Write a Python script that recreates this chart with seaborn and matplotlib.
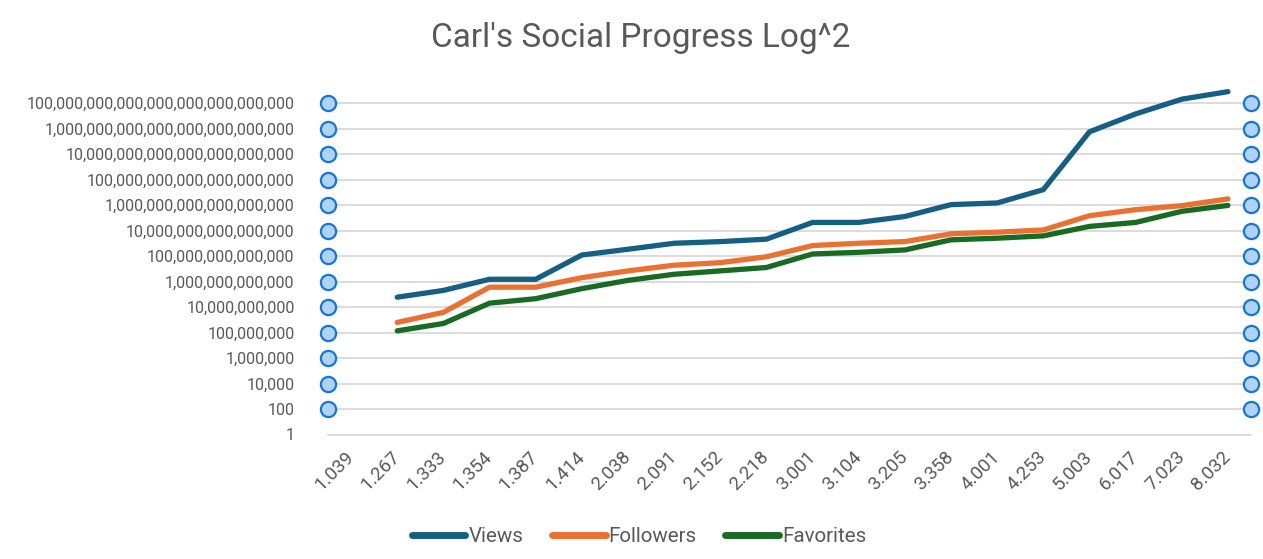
import numpy as np
import pandas as pd
import matplotlib
matplotlib.use("Agg")
import matplotlib.pyplot as plt
from matplotlib.ticker import FixedLocator, FuncFormatter, NullLocator
import seaborn as sns

categories = ["1.039", "1.267", "1.333", "1.354", "1.387", "1.414", "2.038", "2.091",
              "2.152", "2.218", "3.001", "3.104", "3.205", "3.358", "4.001", "4.253",
              "5.003", "6.017", "7.023", "8.032"]
views = [np.nan, 5.9e10, 2.0e11, 1.5e12, 1.5e12, 1.2e14, 3.4e14, 1.0e15, 1.35e15, 2.1e15,
         4.3e16, 4.3e16, 1.26e17, 1.07e18, 1.45e18, 1.6e19, 5.5e23, 1.4e25, 2.0e26, 7.8e26]
followers = [np.nan, 6.2e8, 3.8e9, 3.6e11, 3.6e11, 2.0e12, 6.8e12, 1.9e13, 3.0e13, 8.7e13,
             6.6e14, 1.0e15, 1.35e15, 5.5e15, 7.4e15, 1.1e16, 1.45e17, 4.3e17, 8.9e17, 3.0e18]
favorites = [np.nan, 1.35e8, 5.1e8, 2.0e10, 4.5e10, 2.75e11, 1.23e12, 3.7e12, 6.8e12, 1.26e13,
             1.45e14, 1.95e14, 3.0e14, 1.86e15, 2.5e15, 3.8e15, 2.1e16, 4.3e16, 3.2e17, 9.3e17]
series_names = ["Views", "Followers", "Favorites"]
tick_exponents = list(range(0, 27, 2))
title = "Carl's Social Progress Log^2"

colors = {"Views": "#156082", "Followers": "#E97132", "Favorites": "#196B24"}
text_color = "#595959"
grid_color = "#D9D9D9"

sns.set_theme(style="white")
plt.rcParams["font.family"] = ["Roboto", "DejaVu Sans"]

rows = []
for name, vals in zip(series_names, [views, followers, favorites]):
    for i, v in enumerate(vals):
        rows.append({"pos": i, "value": v, "series": name})
df = pd.DataFrame(rows).dropna()

fig = plt.figure(figsize=(12.63, 5.59), dpi=100)
ax = fig.add_axes([328 / 1263, 1 - 434.5 / 559, (1251 - 328) / 1263, (434.5 - 89) / 559])

sns.lineplot(data=df, x="pos", y="value", hue="series", hue_order=series_names,
             palette=colors, estimator=None, linewidth=3.8, ax=ax, legend=True,
             solid_capstyle="round", solid_joinstyle="round", clip_on=False, zorder=3)

ax.set_yscale("log")
ax.set_ylim(1, 10 ** 27.1)
ax.set_xlim(-0.5, len(categories) - 0.5)

ticks = [10.0 ** k for k in tick_exponents]
ax.yaxis.set_major_locator(FixedLocator(ticks))
ax.yaxis.set_minor_locator(NullLocator())
ax.yaxis.set_major_formatter(FuncFormatter(lambda v, p: f"{10 ** int(round(np.log10(v))):,}"))
ax.set_xticks(range(len(categories)))
ax.set_xticklabels(categories)

ax.grid(axis="y", color=grid_color, linewidth=1.3, zorder=0)
ax.grid(axis="x", visible=False)
for s in ["top", "right", "left"]:
    ax.spines[s].set_visible(False)
ax.spines["bottom"].set_color(grid_color)
ax.spines["bottom"].set_linewidth(1.3)

ax.tick_params(axis="y", length=0, pad=24, labelsize=11.5, labelcolor=text_color)
ax.tick_params(axis="x", length=0, pad=14, labelsize=13.5, labelcolor=text_color)
for lab in ax.get_xticklabels():
    lab.set_rotation(45)
    lab.set_ha("right")
    lab.set_va("center")
    lab.set_rotation_mode("anchor")

ax.set_xlabel("")
ax.set_ylabel("")

# selection handles at the plot edges
xl = ax.get_xlim()
for xh in xl:
    ax.scatter([xh] * (len(ticks) - 1), ticks[1:], s=120, facecolor="#AFD3F6",
               edgecolor="#1576D6", linewidth=1.6, clip_on=False, zorder=5)

fig.text(0.507, 1 - 38 / 559, title, ha="center", va="center", fontsize=24, color=text_color)

leg = ax.legend(loc="center", bbox_to_anchor=(0.506, 1 - 537 / 559), bbox_transform=fig.transFigure,
                ncol=3, frameon=False, fontsize=14.8, handlelength=2.6, handletextpad=0.15,
                columnspacing=1.4, labelcolor=text_color)
for h in leg.get_lines():
    h.set_linewidth(5)
    h.set_solid_capstyle("round")

fig.savefig("out.png", dpi=100, facecolor="white")
